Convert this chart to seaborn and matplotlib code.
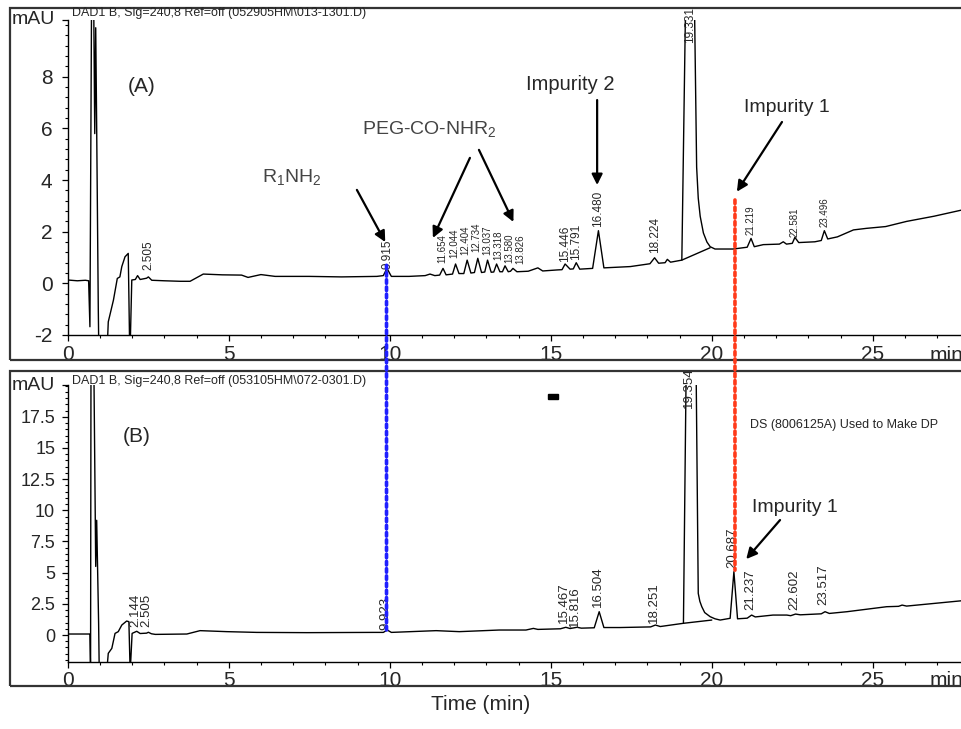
import pandas as pd
import seaborn as sns
import matplotlib.pyplot as plt
from matplotlib.patches import Rectangle, ConnectionPatch
from matplotlib.ticker import MultipleLocator

# ---- chromatogram (A): time (min) / signal (mAU); 12 / -3 = off scale
top_time = [0.00, 0.30, 0.55, 0.65, 0.69, 0.745, 0.80, 0.84, 0.87, 0.90, 0.95, 0.97,
            1.21, 1.26, 1.42, 1.54, 1.62, 1.68, 1.78, 1.88, 1.93, 1.99, 2.10, 2.17, 2.25,
            2.45, 2.505, 2.61, 3.00, 3.50, 3.80, 4.21, 4.80, 5.40, 5.60, 6.00, 6.44, 7.50,
            8.50, 9.60, 9.80, 9.915, 10.05, 10.60, 11.10, 11.25, 11.40, 11.55, 11.654, 11.75,
            11.95, 12.044, 12.15, 12.30, 12.404, 12.52, 12.63, 12.734, 12.85, 12.95, 13.037,
            13.15, 13.23, 13.318, 13.42, 13.50, 13.580, 13.68, 13.75, 13.826, 13.95, 14.30,
            14.60, 14.75, 15.20, 15.35, 15.446, 15.60, 15.70, 15.791, 15.90, 16.30, 16.480,
            16.65, 17.47, 18.08, 18.224, 18.35, 18.55, 18.62, 18.72, 19.07, 19.20, 19.45,
            19.53, 19.58, 19.64, 19.74, 19.85, 19.95, 20.10, 20.67, 21.10, 21.219, 21.32,
            21.60, 22.10, 22.22, 22.32, 22.50, 22.581, 22.70, 23.20, 23.40, 23.496, 23.60,
            23.90, 24.40, 24.80, 25.40, 26.05, 26.90, 27.80]
top_signal = [0.13, 0.10, 0.12, 0.10, -1.68, 12, 12, 5.8, 9.9, 6.0, -1.0, -3,
              -3, -1.49, -0.65, 0.19, 0.25, 0.65, 1.03, 1.16, -3, 0.13, 0.15, 0.30, 0.15,
              0.20, 0.25, 0.12, 0.10, 0.08, 0.08, 0.36, 0.33, 0.32, 0.23, 0.34, 0.27, 0.27,
              0.25, 0.27, 0.30, 0.58, 0.27, 0.27, 0.30, 0.36, 0.30, 0.32, 0.58, 0.33,
              0.36, 0.75, 0.38, 0.38, 0.90, 0.40, 0.42, 0.97, 0.42, 0.44, 0.90,
              0.43, 0.44, 0.75, 0.45, 0.45, 0.68, 0.45, 0.47, 0.58, 0.45, 0.47,
              0.60, 0.48, 0.52, 0.53, 0.75, 0.55, 0.56, 0.80, 0.55, 0.58, 2.04,
              0.60, 0.65, 0.76, 0.99, 0.78, 0.80, 0.93, 0.82, 0.90, 12, 12,
              4.5, 3.3, 2.6, 1.95, 1.60, 1.42, 1.33, 1.33, 1.40, 1.74, 1.42,
              1.50, 1.52, 1.61, 1.52, 1.55, 1.78, 1.58, 1.61, 1.66, 2.04, 1.72,
              1.80, 2.07, 2.13, 2.20, 2.40, 2.60, 2.85]
top_base_time = [19.07, 19.95]
top_base_signal = [0.90, 1.38]

# ---- chromatogram (B)
bot_time = [0.00, 0.69, 0.71, 0.725, 0.80, 0.87, 0.90, 0.96, 0.98, 1.21, 1.26, 1.37,
            1.47, 1.57, 1.68, 1.83, 1.90, 1.94, 2.00, 2.144, 2.25, 2.45, 2.505, 2.60,
            2.72, 3.70, 4.11, 4.94, 5.87, 7.43, 9.50, 9.80, 9.923, 10.05, 11.44, 12.16,
            13.40, 14.05, 14.23, 14.46, 14.60, 15.30, 15.467, 15.60, 15.816, 15.95, 16.35,
            16.504, 16.65, 17.15, 18.10, 18.251, 18.40, 19.12, 19.22, 19.50, 19.58, 19.63,
            19.69, 19.78, 19.95, 20.10, 20.26, 20.57, 20.687, 20.80, 21.10, 21.237, 21.35,
            21.90, 22.33, 22.45, 22.602, 22.75, 23.40, 23.517, 23.65, 24.20, 25.43, 25.80,
            25.91, 26.05, 27.77]
bot_signal = [0.08, 0.08, -3, 25, 25, 5.5, 9.2, 0.96, -3, -3, -1.47, -1.07,
              0.13, 0.27, 0.80, 1.12, 1.07, -3, 0.13, 0.30, 0.12, 0.15, 0.22, 0.10,
              0.05, 0.08, 0.35, 0.27, 0.21, 0.19, 0.21, 0.21, 0.40, 0.21, 0.35, 0.27,
              0.40, 0.40, 0.40, 0.53, 0.45, 0.50, 0.62, 0.52, 0.62, 0.55, 0.58,
              1.87, 0.60, 0.60, 0.65, 0.80, 0.68, 0.94, 25, 25, 3.34, 2.70,
              2.27, 1.80, 1.47, 1.30, 1.20, 1.34, 5.08, 1.30, 1.35, 1.60, 1.45,
              1.60, 1.60, 1.55, 1.68, 1.62, 1.70, 1.87, 1.73, 1.87, 2.27, 2.30,
              2.40, 2.32, 2.75]
bot_base_time = [19.12, 20.00]
bot_base_signal = [0.94, 1.20]

# ---- peak labels: text, where the label sits (time, signal)
top_peaks = ["2.505", "9.915", "11.654", "12.044", "12.404", "12.734", "13.037", "13.318",
             "13.580", "13.826", "15.446", "15.791", "16.480", "18.224", "19.331",
             "21.219", "22.581", "23.496"]
top_peak_label_x = [2.505, 9.915, 11.64, 12.00, 12.34, 12.68, 13.02, 13.36,
                    13.70, 14.04, 15.446, 15.791, 16.480, 18.224, 19.331,
                    21.219, 22.581, 23.496]
top_peak_label_y = [0.50, 0.55, 0.78, 0.97, 1.10, 1.22, 1.10, 0.90, 0.78, 0.75, 0.84, 0.90,
                    2.19, 1.16, 9.30, 1.87, 1.81, 2.19]
bot_peaks = ["2.144", "2.505", "9.923", "15.467", "15.816", "16.504", "18.251", "19.354",
             "20.687", "21.237", "22.602", "23.517"]
bot_peak_label_y = [0.67, 0.67, 0.40, 0.94, 0.67, 2.27, 0.94, 18.18, 5.35, 2.00, 2.00, 2.40]

top_yticks = [-2, 0, 2, 4, 6, 8]
top_ylabels = ["-2", "0", "2", "4", "6", "8"]
bot_yticks = [0, 2.5, 5, 7.5, 10, 12.5, 15, 17.5]
bot_ylabels = ["0", "2.5", "5", "7.5", "10", "12.5", "15", "17.5"]
xticks = [0, 5, 10, 15, 20, 25]

sns.set_style("ticks")
plt.rcParams['font.family'] = ['Liberation Sans', 'DejaVu Sans']
plt.rcParams['mathtext.fontset'] = 'custom'
plt.rcParams['mathtext.rm'] = 'Liberation Sans'

W, H = 962, 729
def fx(x):
    return x / W
def fy(y):
    return 1 - y / H

fig = plt.figure(figsize=(9.62, 7.29), dpi=100)

# panel frames
for y0, y1 in [(8, 360), (371, 686)]:
    fig.add_artist(Rectangle((fx(10), fy(y1)), 1.0, (y1 - y0) / H, transform=fig.transFigure,
                             fill=False, edgecolor='#333333', lw=1.6))

ax1 = fig.add_axes([fx(67.7), fy(335), 1 - fx(67.7), (335 - 20) / H])
ax2 = fig.add_axes([fx(67.7), fy(661.7), 1 - fx(67.7), (661.7 - 385) / H])

sns.lineplot(x=top_time, y=top_signal, ax=ax1, color='k', lw=1.0, sort=False, estimator=None)
sns.lineplot(x=top_base_time, y=top_base_signal, ax=ax1, color='k', lw=1.0, estimator=None)
sns.lineplot(x=bot_time, y=bot_signal, ax=ax2, color='k', lw=1.0, sort=False, estimator=None)
sns.lineplot(x=bot_base_time, y=bot_base_signal, ax=ax2, color='k', lw=1.0, estimator=None)

ax1.set_ylim(-2, 10.2)
ax2.set_ylim(-2.14, 20.05)
for ax, yt, yl, ytop, yminor, fs, pad in [(ax1, top_yticks, top_ylabels, 10.2, 0.4, 15, 7),
                                          (ax2, bot_yticks, bot_ylabels, 20.05, 0.5, 13, 5)]:
    ax.set_xlim(0, 27.77)
    ax.patch.set_alpha(0)
    for s in ['top', 'right']:
        ax.spines[s].set_visible(False)
    for s in ['left', 'bottom']:
        ax.spines[s].set_linewidth(1.0)
        ax.spines[s].set_color('k')
    ax.set_yticks(yt + [ytop])
    ax.set_yticklabels(yl + [""], fontsize=fs)
    ax.yaxis.set_minor_locator(MultipleLocator(yminor))
    ax.set_xticks(xticks)
    ax.set_xticklabels([str(v) for v in xticks], fontsize=15)
    ax.xaxis.set_minor_locator(MultipleLocator(1))
    ax.tick_params(which='major', length=4, width=0.9, pad=3, color='k')
    ax.tick_params(axis='y', which='major', pad=pad)
    ax.tick_params(which='minor', length=2.2, width=0.8, color='k')
    ax.set_xlabel("")
    ax.set_ylabel("")
    ax.text(-0.014, 1.0, "mAU", transform=ax.transAxes, ha='right', va='center', fontsize=14)
    ax.text(26.75, -0.035, "min", transform=ax.get_xaxis_transform(), ha='left', va='top',
            fontsize=15, clip_on=False)

for lab, lx, ly in zip(top_peaks, top_peak_label_x, top_peak_label_y):
    if 21 < lx:
        size = 7
    elif 11.5 < lx < 14.5:
        size = 7
    else:
        size = 8.5
    ax1.text(lx, ly, lab, rotation=90, ha='center', va='bottom', fontsize=size, clip_on=False)
for lab, ly in zip(bot_peaks, bot_peak_label_y):
    ax2.text(float(lab) - 0.05, ly, lab, rotation=90, ha='center', va='bottom',
             fontsize=9.5, clip_on=False)

# headers and panel letters
fig.text(fx(72), fy(13), r"DAD1 B, Sig=240,8 Ref=off (052905HM\013-1301.D)", fontsize=9,
         ha='left', va='center')
fig.text(fx(72), fy(381), r"DAD1 B, Sig=240,8 Ref=off (053105HM\072-0301.D)", fontsize=9,
         ha='left', va='center')
fig.text(fx(142), fy(87), "(A)", fontsize=15, ha='center', va='center')
fig.text(fx(137), fy(437), "(B)", fontsize=15, ha='center', va='center')

# annotations panel A
fig.text(fx(292), fy(178), r"R$_\mathregular{1}$NH$_\mathregular{2}$", fontsize=14,
         color='#444444', ha='center', va='center')
fig.text(fx(429), fy(130), r"PEG-CO-NHR$_\mathregular{2}$", fontsize=14,
         color='#444444', ha='center', va='center')
fig.text(fx(570), fy(85), "Impurity 2", fontsize=14.5, ha='center', va='center')
fig.text(fx(787), fy(107), "Impurity 1", fontsize=14, ha='center', va='center')
arrow = dict(arrowstyle='-|>', color='k', lw=1.6, mutation_scale=16, shrinkA=0, shrinkB=0)
for start, tip in [((8.98, 3.62), (9.86, 1.60)),
                   ((12.49, 4.86), (11.34, 1.76)),
                   ((12.77, 5.17), (13.84, 2.38)),
                   ((16.44, 7.10), (16.44, 3.81)),
                   ((22.18, 6.25), (20.78, 3.55))]:
    ax1.annotate("", xy=tip, xytext=start, arrowprops=arrow, annotation_clip=False)

# annotations panel B
fig.text(fx(750), fy(425), "DS (8006125A) Used to Make DP", fontsize=9, ha='left', va='center')
fig.text(fx(795), fy(507), "Impurity 1", fontsize=14, ha='center', va='center')
ax2.annotate("", xy=(21.07, 6.09), xytext=(22.12, 9.22), arrowprops=arrow, annotation_clip=False)
fig.add_artist(Rectangle((fx(548), fy(399)), 10 / W, 5 / H, transform=fig.transFigure,
                         color='k'))

# dotted guide lines across both panels
for t, ya, yb, col in [(9.90, 0.70, 0.40, '#2020ff'), (20.72, 3.23, 5.20, '#ff3a1a')]:
    con = ConnectionPatch(xyA=(t, ya), coordsA=ax1.transData, xyB=(t, yb), coordsB=ax2.transData,
                          color=col, lw=2.6, linestyle=(0, (1, 1)))
    fig.add_artist(con)

fig.text(0.5, fy(705), "Time (min)", fontsize=15, ha='center', va='center')

fig.savefig("out.png", dpi=100)
